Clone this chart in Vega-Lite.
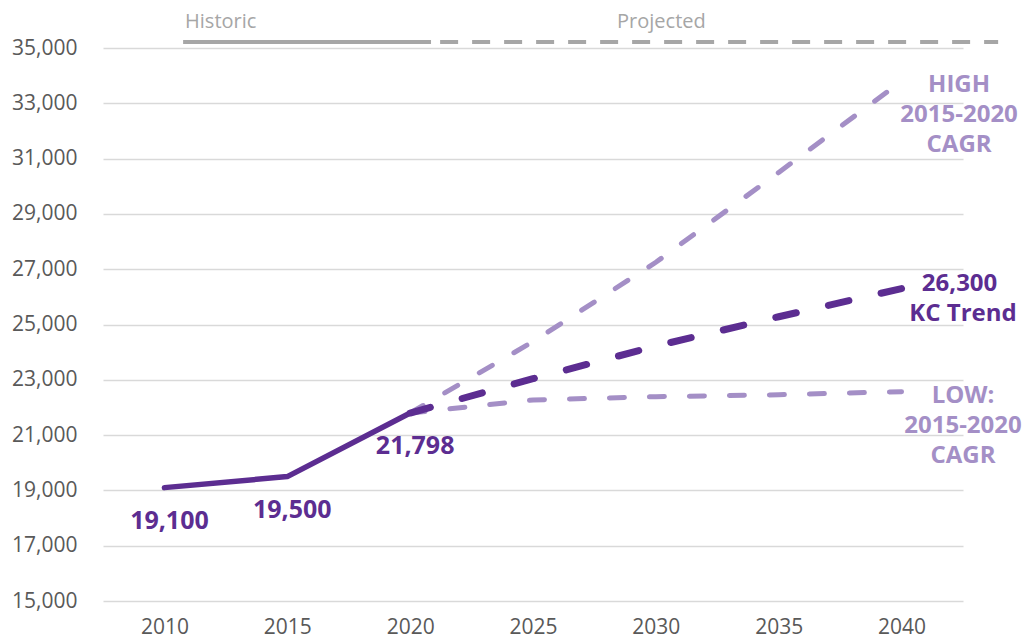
{
  "$schema": "https://vega.github.io/schema/vega-lite/v6.json",
  "width": 860,
  "height": 553,
  "autosize": {"type": "none"},
  "padding": {"left": 103, "top": 48, "right": 68, "bottom": 37},
  "background": "white",
  "config": {"view": {"stroke": null}, "font": "Open Sans"},
  "datasets": {
    "series": [
      {"series": "Historic", "year": 2010, "value": 19100},
      {"series": "Historic", "year": 2015, "value": 19500},
      {"series": "Historic", "year": 2020, "value": 21798},
      {"series": "KC Trend", "year": 2020, "value": 21798},
      {"series": "KC Trend", "year": 2025, "value": 23040},
      {"series": "KC Trend", "year": 2030, "value": 24220},
      {"series": "KC Trend", "year": 2035, "value": 25280},
      {"series": "KC Trend", "year": 2040, "value": 26300},
      {"series": "High", "year": 2020, "value": 21798},
      {"series": "High", "year": 2025, "value": 24380},
      {"series": "High", "year": 2030, "value": 27250},
      {"series": "High", "year": 2035, "value": 30500},
      {"series": "High", "year": 2040, "value": 33800},
      {"series": "Low", "year": 2020, "value": 21798},
      {"series": "Low", "year": 2025, "value": 22270},
      {"series": "Low", "year": 2030, "value": 22390},
      {"series": "Low", "year": 2035, "value": 22460},
      {"series": "Low", "year": 2040, "value": 22570}
    ],
    "key": [
      {"kind": "Historic", "year": 2010.76, "year_end": 2020.85, "value": 35220},
      {"kind": "Projected", "year": 2021.22, "year_end": 2043.93, "value": 35220}
    ],
    "keyText": [
      {"text": "Historic", "year": 2010.84, "value": 35712},
      {"text": "Projected", "year": 2028.42, "value": 35712}
    ],
    "notes": [
      {"text": "HIGH", "group": "High", "year": 2042.34, "value": 33409},
      {"text": "2015-2020", "group": "High", "year": 2042.34, "value": 32324},
      {"text": "CAGR", "group": "High", "year": 2042.34, "value": 31239},
      {"text": "LOW:", "group": "Low", "year": 2042.5, "value": 22161},
      {"text": "2015-2020", "group": "Low", "year": 2042.5, "value": 21076},
      {"text": "CAGR", "group": "Low", "year": 2042.5, "value": 19991},
      {"text": "KC Trend", "group": "KC", "year": 2042.5, "value": 25127}
    ]
  },
  "encoding": {
    "x": {
      "field": "year",
      "type": "quantitative",
      "scale": {"domain": [2007.5, 2042.5], "nice": false, "zero": false},
      "axis": {
        "values": [2010, 2015, 2020, 2025, 2030, 2035, 2040],
        "format": "d",
        "title": null,
        "grid": false,
        "domain": false,
        "ticks": false,
        "labelPadding": 15,
        "labelFontSize": 21,
        "labelColor": "#595959",
        "labelFont": "Open Sans"
      }
    },
    "y": {
      "field": "value",
      "type": "quantitative",
      "scale": {"domain": [15000, 35000], "nice": false, "zero": false},
      "axis": {
        "values": [15000, 17000, 19000, 21000, 23000, 25000, 27000, 29000, 31000, 33000, 35000],
        "format": ",.0f",
        "title": null,
        "domain": false,
        "ticks": false,
        "labelPadding": 26,
        "labelFontSize": 21,
        "labelColor": "#595959",
        "labelFont": "Open Sans",
        "gridColor": "#D9D9D9",
        "gridWidth": 1.5
      }
    }
  },
  "layer": [
    {
      "data": {"name": "key"},
      "transform": [{"filter": "datum.kind === 'Historic'"}],
      "mark": {"type": "rule", "color": "#A6A6A6", "strokeWidth": 4},
      "encoding": {"x2": {"field": "year_end"}}
    },
    {
      "data": {"name": "key"},
      "transform": [{"filter": "datum.kind === 'Projected'"}],
      "mark": {"type": "rule", "color": "#A6A6A6", "strokeWidth": 4, "strokeDash": [18, 14]},
      "encoding": {"x2": {"field": "year_end"}}
    },
    {
      "data": {"name": "keyText"},
      "mark": {"type": "text", "align": "left", "baseline": "alphabetic", "fontSize": 20, "color": "#A6A6A6"},
      "encoding": {"text": {"field": "text"}}
    },
    {
      "data": {"name": "series"},
      "transform": [{"filter": "datum.series === 'High'"}],
      "mark": {"type": "line", "color": "#A48FC6", "strokeWidth": 5, "strokeDash": [15, 25], "strokeCap": "round"}
    },
    {
      "data": {"name": "series"},
      "transform": [{"filter": "datum.series === 'Low'"}],
      "mark": {"type": "line", "color": "#A48FC6", "strokeWidth": 5, "strokeDash": [15, 25], "strokeCap": "round"}
    },
    {
      "data": {"name": "series"},
      "transform": [{"filter": "datum.series === 'Historic'"}],
      "mark": {"type": "line", "color": "#5C2D91", "strokeWidth": 5.5, "strokeCap": "round", "strokeJoin": "round"}
    },
    {
      "data": {"name": "series"},
      "transform": [{"filter": "datum.series === 'KC Trend'"}],
      "mark": {"type": "line", "color": "#5C2D91", "strokeWidth": 7, "strokeDash": [21, 33], "strokeCap": "round"}
    },
    {
      "data": {"name": "series"},
      "transform": [{"filter": "datum.series === 'Historic'"}],
      "mark": {"type": "text", "align": "center", "baseline": "alphabetic", "dx": 5, "dy": 41, "fontSize": 25, "fontWeight": "bold", "color": "#5C2D91"},
      "encoding": {"text": {"field": "value", "format": ",.0f"}}
    },
    {
      "data": {"name": "series"},
      "transform": [{"filter": "datum.series === 'KC Trend' && datum.year === 2040"}],
      "mark": {"type": "text", "align": "center", "baseline": "alphabetic", "dx": 58, "dy": 2, "fontSize": 24, "fontWeight": "bold", "color": "#5C2D91"},
      "encoding": {"text": {"field": "value", "format": ",.0f"}}
    },
    {
      "data": {"name": "notes"},
      "transform": [{"filter": "datum.group !== 'KC'"}],
      "mark": {"type": "text", "align": "center", "baseline": "alphabetic", "fontSize": 24, "fontWeight": "bold", "color": "#A48FC6"},
      "encoding": {"text": {"field": "text"}}
    },
    {
      "data": {"name": "notes"},
      "transform": [{"filter": "datum.group === 'KC'"}],
      "mark": {"type": "text", "align": "center", "baseline": "alphabetic", "fontSize": 24, "fontWeight": "bold", "color": "#5C2D91"},
      "encoding": {"text": {"field": "text"}}
    }
  ]
}
